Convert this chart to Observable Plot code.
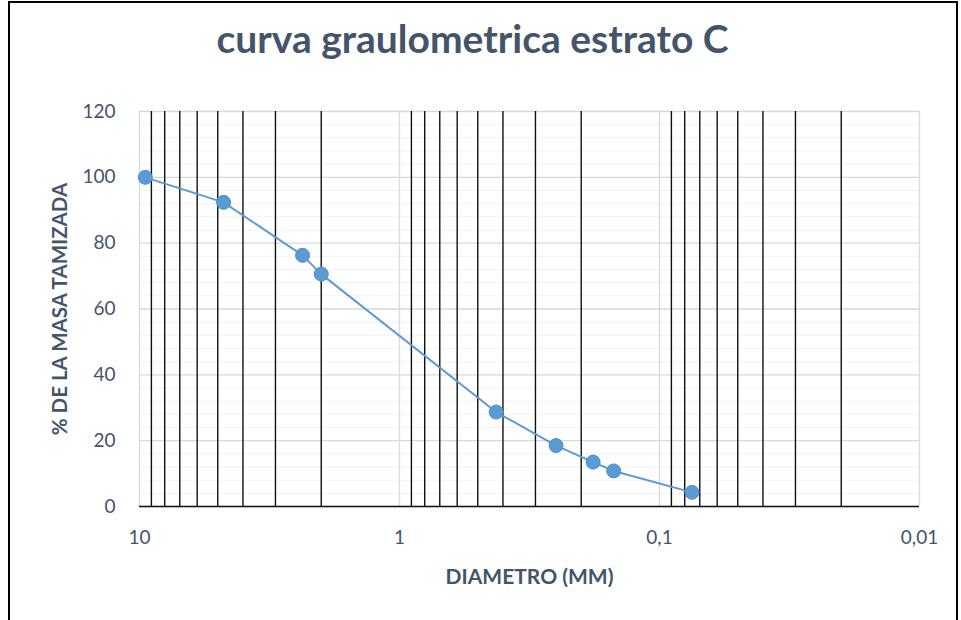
<!DOCTYPE html>
<html><head><meta charset="utf-8">
<script src="https://cdn.jsdelivr.net/npm/d3@7"></script>
<script src="https://cdn.jsdelivr.net/npm/@observablehq/plot@0.6"></script>
<style>
body{margin:0;background:#fff;overflow:hidden;}
#wrap{position:relative;width:961px;height:620px;overflow:hidden;background:#fff;}
#frame{position:absolute;left:8px;top:1px;width:950px;height:700px;border:2px solid #000;box-sizing:border-box;pointer-events:none;}
#chart{position:absolute;left:0;top:0;}
</style></head><body><div id="wrap"><div id="chart"></div><div id="frame"></div></div>
<script>
const titulo = "curva graulometrica estrato C";
const etiquetaX = "DIAMETRO (MM)";
const etiquetaY = "% DE LA MASA TAMIZADA";
const diametro = [9.5, 4.75, 2.36, 2.0, 0.425, 0.25, 0.18, 0.15, 0.075];
const pasa = [100, 92.4, 76.3, 70.6, 28.7, 18.5, 13.5, 10.8, 4.3];
const xTicks = [10, 1, 0.1, 0.01];
const xTickLabels = ["10", "1", "0,1", "0,01"];
const yTicks = [0, 20, 40, 60, 80, 100, 120];

const data = diametro.map((d, i) => ({d, p: pasa[i]}));
const minorX = [0.01, 0.1, 1].flatMap(b => [2,3,4,5,6,7,8,9].map(k => k * b));
const minorY = d3.range(0, 121, 4).filter(v => v % 20 !== 0);
const textColor = "#44546a";
const blue = "#5b9bd5";

const chart = Plot.plot({
  width: 961, height: 620,
  marginLeft: 139, marginRight: 42, marginTop: 111, marginBottom: 114,
  style: {fontFamily: "Lato, 'Open Sans', sans-serif", fontSize: "19px", color: textColor, background: "transparent"},
  x: {type: "log", domain: [10, 0.01]},
  y: {domain: [0, 120]},
  marks: [
    Plot.ruleY(minorY, {stroke: "#f2f2f2", strokeWidth: 1}),
    Plot.ruleY(yTicks, {stroke: "#d9d9d9", strokeWidth: 1.3}),
    Plot.ruleX(xTicks, {stroke: "#d9d9d9", strokeWidth: 1.3}),
    Plot.ruleX(minorX, {stroke: "#111", strokeWidth: 1.4}),
    Plot.ruleY([0], {stroke: "#111", strokeWidth: 1.4}),
    Plot.axisX(xTicks, {tickSize: 0, tickPadding: 24, tickFormat: d => xTickLabels[xTicks.indexOf(d)], label: null, fill: textColor}),
    Plot.axisY(yTicks, {tickSize: 0, tickPadding: 24, label: null, fill: textColor}),
    Plot.line(data, {x: "d", y: "p", stroke: blue, strokeWidth: 2}),
    Plot.dot(data, {x: "d", y: "p", r: 7, fill: blue, stroke: "#4f8fcc", strokeWidth: 1}),
    Plot.text([titulo], {frameAnchor: "top", dx: -57, dy: -71, lineAnchor: "middle", textAnchor: "middle", fontSize: 39, fontWeight: "bold", fill: textColor}),
    Plot.text([etiquetaX], {frameAnchor: "bottom", dy: 71, lineAnchor: "middle", textAnchor: "middle", fontSize: 21, fontWeight: "bold", fill: textColor}),
    Plot.text([etiquetaY], {frameAnchor: "left", dx: -79, rotate: -90, lineAnchor: "middle", textAnchor: "middle", fontSize: 20.5, fontWeight: "bold", fill: textColor})
  ]
});
document.getElementById("chart").appendChild(chart);
</script></body></html>
